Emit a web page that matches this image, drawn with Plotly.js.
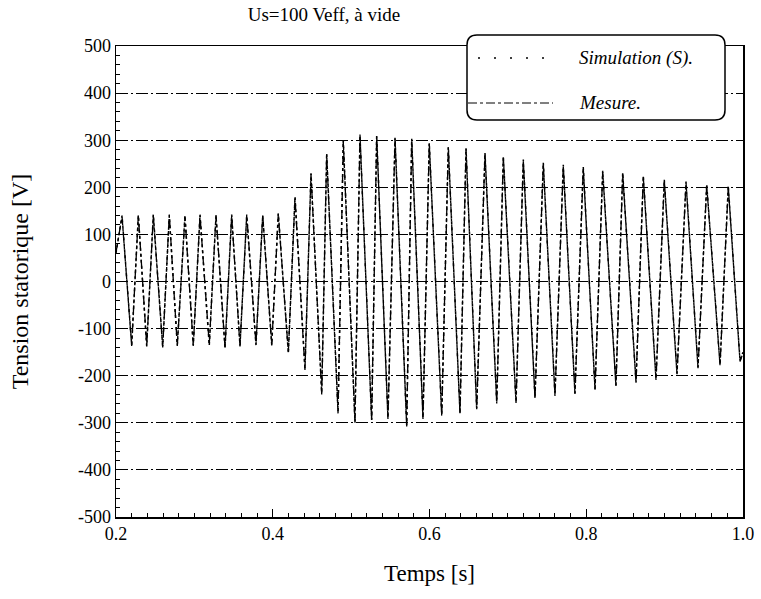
<!DOCTYPE html>
<html>
<head>
<meta charset="utf-8">
<script src="https://cdn.plot.ly/plotly-3.0.1.min.js"></script>
<style>html,body{margin:0;padding:0;background:#fff;}#chart{width:761px;height:599px;}</style>
</head>
<body>
<div id="chart"></div>
<script>
// Time of each turning point of the waveform [s]
const timeS = [0.2000,0.2077,0.2200,0.2285,0.2392,0.2476,0.2596,0.2680,0.2782,0.2880,
  0.2986,0.3072,0.3190,0.3276,0.3391,0.3476,0.3582,0.3668,0.3786,0.3872,
  0.3987,0.4071,0.4199,0.4284,0.4411,0.4488,0.4625,0.4688,0.4833,0.4900,
  0.5049,0.5113,0.5262,0.5326,0.5470,0.5560,0.5709,0.5773,0.5917,0.5997,
  0.6156,0.6240,0.6389,0.6466,0.6602,0.6708,0.6858,0.6942,0.7104,0.7197,
  0.7346,0.7452,0.7601,0.7707,0.7856,0.7962,0.8112,0.8210,0.8379,0.8465,
  0.8635,0.8728,0.8890,0.8996,0.9158,0.9273,0.9426,0.9537,0.9707,0.9812,
  0.9962,1.0000];
// Simulation (S) voltage [V]
const simulationV = [60,140,-135,140,-138,142,-138,140,-135,140,
  -135,142,-136,140,-142,142,-136,140,-135,140,
  -134,145,-152,180,-185,230,-237,272,-276,300,
  -297,310,-294,310,-290,305,-305,303,-290,294,
  -283,286,-279,283,-269,273,-257,266,-256,259,
  -246,252,-241,248,-237,243,-228,235,-220,231,
  -213,224,-207,216,-195,212,-182,206,-176,203,
  -168,-150];
// Mesure voltage [V]
const mesureV = [62,138,-137,141,-136,140,-140,142,-137,138,
  -137,140,-134,141,-140,140,-138,142,-133,141,
  -136,143,-150,178,-188,228,-240,270,-280,298,
  -300,312,-296,308,-292,303,-308,300,-292,292,
  -285,284,-281,281,-271,271,-259,264,-258,257,
  -248,250,-243,246,-239,241,-230,233,-222,229,
  -215,222,-209,214,-197,210,-184,204,-178,201,
  -170,-152];
const xTicks = [0.2,0.4,0.6,0.8,1.0];
const xTickText = ['0.2','0.4','0.6','0.8','1.0'];
const yTicks = [-500,-400,-300,-200,-100,0,100,200,300,400,500];
const yTickText = ['-500','-400','-300','-200','-100','0','100','200','300','400','500'];
const seriesNames = ['Simulation (S).','Mesure.'];

const serif = 'Liberation Serif';
const L = 116, R = 743, T = 46, B = 517;
const W = R - L, H = B - T;
const px = x => (x - L) / W;
const py = y => (B - y) / H;

const traces = [
  {x: timeS, y: simulationV, name: seriesNames[0], mode: 'lines', showlegend: false,
   line: {color: '#000', width: 1.5, dash: 'dot'}},
  {x: timeS, y: mesureV, name: seriesNames[1], mode: 'lines', showlegend: false,
   line: {color: '#000', width: 1.3, dash: 'dashdot'}}
];

// rounded legend box
const bx0 = px(467), bx1 = px(725), byT = py(35), byB = py(120);
const rx = 10 / W, ry = 10 / H;
const boxPath = `M ${bx0+rx},${byT} L ${bx1-rx},${byT} Q ${bx1},${byT} ${bx1},${byT-ry} ` +
  `L ${bx1},${byB+ry} Q ${bx1},${byB} ${bx1-rx},${byB} L ${bx0+rx},${byB} ` +
  `Q ${bx0},${byB} ${bx0},${byB+ry} L ${bx0},${byT-ry} Q ${bx0},${byT} ${bx0+rx},${byT} Z`;

const layout = {
  width: 761, height: 599,
  paper_bgcolor: '#fff', plot_bgcolor: '#fff',
  margin: {l: L, r: 761 - R, t: T, b: 599 - B},
  font: {family: serif, color: '#000', size: 17},
  title: {text: 'Us=100 Veff, à vide', font: {family: serif, size: 19, color: '#000'},
          xref: 'paper', x: px(324), xanchor: 'center', yref: 'container', y: 1 - 14/599, yanchor: 'middle'},
  xaxis: {
    range: [0.2, 1.0], tickmode: 'array', tickvals: xTicks, ticktext: xTickText,
    ticks: 'inside', ticklen: 8, tickwidth: 1, tickcolor: '#000',
    minor: {dtick: 0.02, ticks: 'inside', ticklen: 4, tickcolor: '#000', showgrid: false},
    showgrid: false, zeroline: false, showline: true, mirror: true, linecolor: '#000', linewidth: 1.5,
    tickfont: {family: serif, size: 18, color: '#000'},
    title: {text: 'Temps [s]', font: {family: serif, size: 23, color: '#000'}, standoff: 22}
  },
  yaxis: {
    range: [-500, 500], tickmode: 'array', tickvals: yTicks, ticktext: yTickText,
    ticks: 'inside', ticklen: 7, tickwidth: 1, tickcolor: '#000',
    minor: {dtick: 20, ticks: 'inside', ticklen: 4, tickcolor: '#000', showgrid: false},
    showgrid: true, gridcolor: '#000', gridwidth: 1, griddash: '12px,3px,2px,3px',
    zeroline: false, showline: true, mirror: true, linecolor: '#000', linewidth: 1.5,
    tickfont: {family: serif, size: 18, color: '#000'},
    title: {text: 'Tension statorique [V]', font: {family: serif, size: 24, color: '#000'}, standoff: 42}
  },
  shapes: [
    {type: 'path', xref: 'paper', yref: 'paper', path: boxPath, layer: 'above',
     fillcolor: '#fff', line: {color: '#000', width: 1.5}},
    {type: 'line', xref: 'paper', yref: 'paper', layer: 'above',
     x0: px(478), x1: px(548), y0: py(58), y1: py(58), line: {color: '#000', width: 1.5, dash: '2px,14px'}},
    {type: 'line', xref: 'paper', yref: 'paper', layer: 'above',
     x0: px(468), x1: px(553), y0: py(103), y1: py(103), line: {color: '#000', width: 1, dash: 'dashdot'}}
  ],
  annotations: [
    {xref: 'paper', yref: 'paper', x: px(577), y: py(58), xanchor: 'left', yanchor: 'middle', showarrow: false,
     text: '<i>' + seriesNames[0] + '</i>', font: {family: serif, size: 19, color: '#000'}},
    {xref: 'paper', yref: 'paper', x: px(577), y: py(103), xanchor: 'left', yanchor: 'middle', showarrow: false,
     text: '<i>' + seriesNames[1] + '</i>', font: {family: serif, size: 19, color: '#000'}}
  ]
};

Plotly.newPlot('chart', traces, layout, {displayModeBar: false, staticPlot: true});
</script>
</body>
</html>
